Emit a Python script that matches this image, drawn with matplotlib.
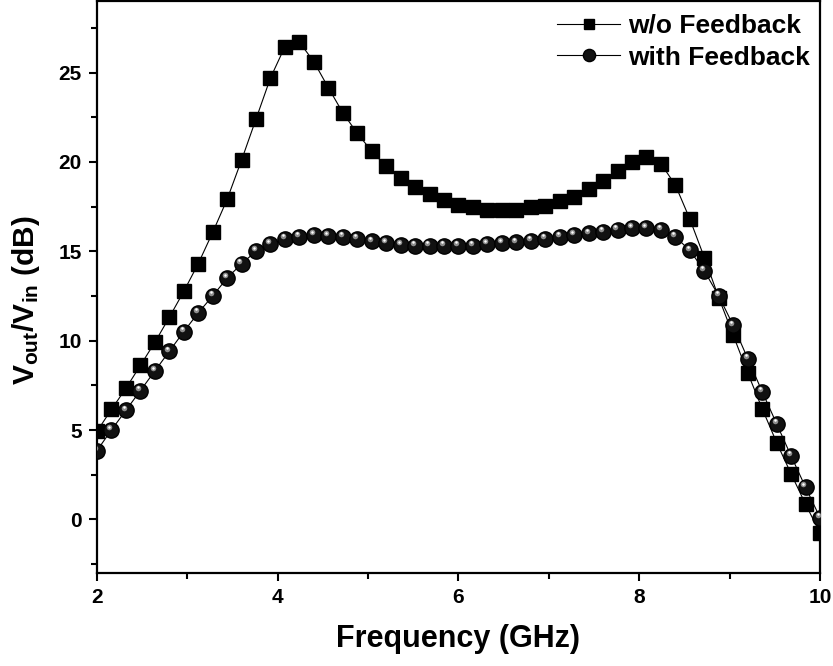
import matplotlib
matplotlib.use("Agg")
import matplotlib.pyplot as plt
import matplotlib.transforms as mtransforms
import numpy as np

plt.rcParams['font.family'] = ['Liberation Sans', 'DejaVu Sans']
plt.rcParams['font.weight'] = 'bold'
plt.rcParams['mathtext.fontset'] = 'custom'
plt.rcParams['mathtext.rm'] = 'Liberation Sans:bold'
plt.rcParams['mathtext.bf'] = 'Liberation Sans:bold'
plt.rcParams['mathtext.it'] = 'Liberation Sans:bold'

# frequency grid, 51 points from 2 to 10 GHz
freq = np.linspace(2, 10, 51)

no_fb = [4.92, 6.15, 7.33, 8.61, 9.9, 11.3, 12.75, 14.3, 16.05, 17.9,
         20.1, 22.4, 24.7, 26.45, 26.7, 25.6, 24.15, 22.75, 21.6, 20.6,
         19.75, 19.1, 18.6, 18.2, 17.85, 17.6, 17.45, 17.3, 17.3, 17.3,
         17.45, 17.55, 17.8, 18.05, 18.5, 18.95, 19.5, 20.0, 20.25, 19.9,
         18.7, 16.8, 14.65, 12.4, 10.3, 8.2, 6.2, 4.3, 2.55, 0.85, -0.75]

with_fb = [3.85, 5.0, 6.1, 7.2, 8.3, 9.4, 10.5, 11.55, 12.5, 13.5,
           14.3, 15.0, 15.4, 15.7, 15.8, 15.9, 15.85, 15.8, 15.7, 15.55,
           15.45, 15.35, 15.3, 15.3, 15.3, 15.3, 15.3, 15.4, 15.45, 15.5,
           15.6, 15.7, 15.8, 15.9, 16.0, 16.1, 16.2, 16.3, 16.3, 16.2,
           15.8, 15.05, 13.9, 12.5, 10.85, 9.0, 7.15, 5.35, 3.55, 1.8, 0.1]

fig = plt.figure(figsize=(8.33, 6.66), dpi=100)
ax = fig.add_axes([0.1164, 0.1396, 0.868, 0.8589])

ax.plot(freq, no_fb, color='black', lw=0.8, marker='s', ms=9.5,
        mfc='black', mec='black', label='w/o Feedback', zorder=3)
ax.plot(freq, with_fb, color='black', lw=0.8, marker='o', ms=11,
        mfc='#111111', mec='black', label='with Feedback', zorder=3)

# highlight on spheres
hl = mtransforms.offset_copy(ax.transData, fig=fig, x=-1.5, y=2.0, units='points')
ax.plot(freq, with_fb, ls='none', marker='o', ms=4, mfc='#9a9a9a', mec='none',
        transform=hl, zorder=4, alpha=0.9)
hl2 = mtransforms.offset_copy(ax.transData, fig=fig, x=-1.5, y=2.5, units='points')
ax.plot(freq, with_fb, ls='none', marker='o', ms=1.8, mfc='white', mec='none',
        transform=hl2, zorder=5)

ax.set_xlim(2, 10)
ax.set_ylim(-3, 29)
ax.set_xticks([2, 4, 6, 8, 10])
ax.set_xticks([3, 5, 7, 9], minor=True)
ax.set_yticks([0, 5, 10, 15, 20, 25])
ax.set_yticks([-2.5, 2.5, 7.5, 12.5, 17.5, 22.5, 27.5], minor=True)

ax.tick_params(which='major', direction='out', length=6, width=1.5,
               labelsize=15, top=False, right=False, pad=5)
ax.tick_params(which='minor', direction='out', length=4, width=1.5,
               top=False, right=False)
for lab in ax.get_xticklabels() + ax.get_yticklabels():
    lab.set_fontweight('bold')
for sp in ax.spines.values():
    sp.set_linewidth(1.6)

ax.set_xlabel('Frequency (GHz)', fontsize=22, fontweight='bold', labelpad=12)
ax.set_ylabel(r'V$_{\mathbf{out}}$/V$_{\mathbf{in}}$ (dB)', fontsize=21.5,
              fontweight='bold')
ax.yaxis.set_label_coords(-0.076, 0.477)

leg = ax.legend(loc='upper right', bbox_to_anchor=(1.012, 1.01), frameon=False,
                prop={'size': 19, 'weight': 'bold'}, handlelength=2.4,
                handletextpad=0.3, labelspacing=0.3, markerscale=0.8,
                borderaxespad=0.3)

fig.savefig('out.png', dpi=100)
